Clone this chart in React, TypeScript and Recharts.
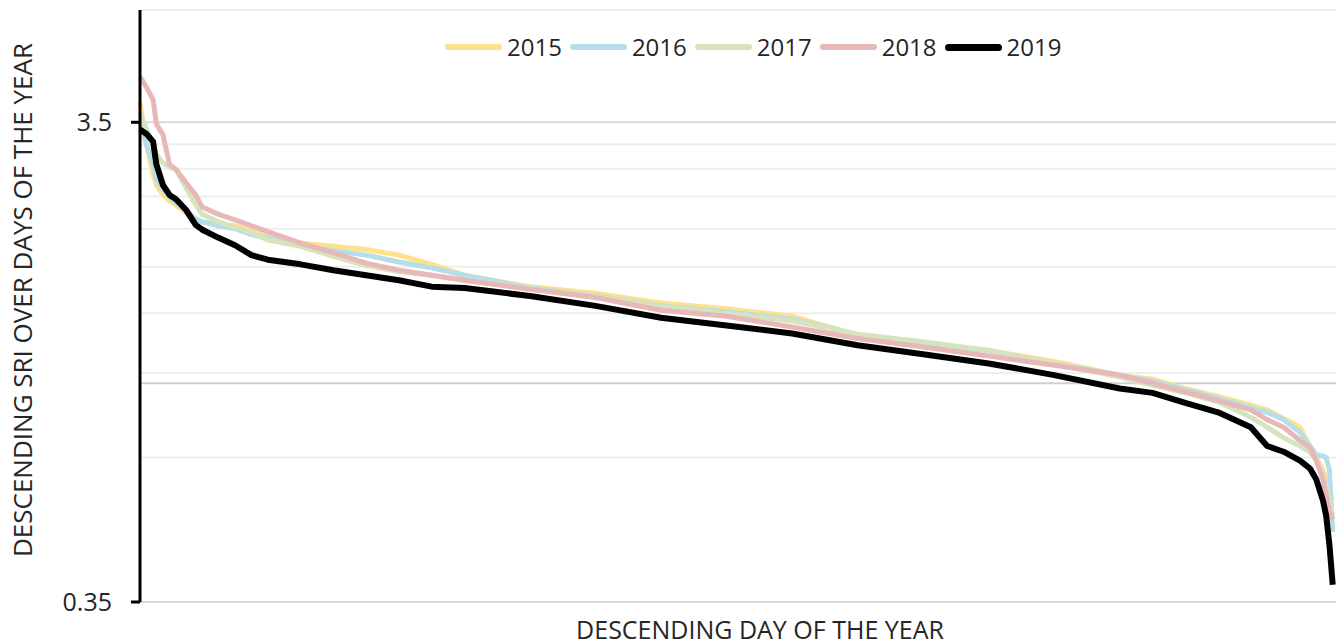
import { CartesianGrid, Line, LineChart, ReferenceLine, XAxis, YAxis } from "recharts";

// day of year (descending order of SRI)
const days = [
  1, 3, 5, 6, 8, 10, 12, 15, 18, 20, 25, 30, 35, 40, 50, 60, 70, 80, 90, 100, 120, 140, 160, 180,
  200, 220, 240, 260, 280, 300, 310, 320, 330, 340, 345, 350, 355, 358, 360, 362, 363, 364, 365,
];

const sri2015 = [
  3.85, 3.14, 2.72, 2.59, 2.47, 2.4, 2.35, 2.27, 2.2, 2.17, 2.15, 2.13, 2.08, 2.04, 1.96, 1.93, 1.9,
  1.85, 1.77, 1.68, 1.59, 1.54, 1.47, 1.43, 1.38, 1.26, 1.21, 1.17, 1.11, 1.04, 1.02, 0.975, 0.94,
  0.9, 0.88, 0.845, 0.81, 0.74, 0.7, 0.66, 0.63, 0.585, 0.57,
];
const sri2016 = [
  3.5, 3.14, 2.86, 2.66, 2.53, 2.45, 2.38, 2.3, 2.2, 2.17, 2.13, 2.1, 2.04, 2.01, 1.94, 1.89, 1.85,
  1.79, 1.74, 1.68, 1.58, 1.52, 1.45, 1.41, 1.36, 1.265, 1.21, 1.17, 1.1, 1.04, 1.01, 0.97, 0.93,
  0.89, 0.87, 0.84, 0.79, 0.74, 0.71, 0.705, 0.7, 0.66, 0.49,
];
const sri2017 = [
  3.67, 3.38, 3.14, 3.0, 2.88, 2.82, 2.79, 2.56, 2.36, 2.25, 2.17, 2.11, 2.06, 1.99, 1.93, 1.84,
  1.76, 1.71, 1.68, 1.64, 1.575, 1.515, 1.445, 1.4, 1.35, 1.265, 1.22, 1.17, 1.1, 1.03, 0.99, 0.955,
  0.915, 0.85, 0.81, 0.77, 0.74, 0.72, 0.69, 0.645, 0.61, 0.57, 0.53,
];
const sri2018 = [
  4.36, 4.14, 3.9, 3.47, 3.3, 2.86, 2.79, 2.62, 2.47, 2.33, 2.25, 2.19, 2.13, 2.07, 1.96, 1.87,
  1.78, 1.72, 1.68, 1.64, 1.57, 1.51, 1.42, 1.38, 1.31, 1.24, 1.19, 1.14, 1.09, 1.04, 1.0, 0.96,
  0.92, 0.88, 0.84, 0.81, 0.76, 0.735, 0.69, 0.63, 0.585, 0.54, 0.52,
];
const sri2019 = [
  3.38, 3.31, 3.19, 2.86, 2.59, 2.47, 2.42, 2.3, 2.14, 2.09, 2.01, 1.94, 1.85, 1.81, 1.77, 1.72,
  1.68, 1.64, 1.59, 1.58, 1.52, 1.45, 1.37, 1.32, 1.27, 1.2, 1.15, 1.1, 1.04, 0.975, 0.955, 0.91,
  0.87, 0.81, 0.74, 0.72, 0.69, 0.665, 0.63, 0.57, 0.53, 0.46, 0.38,
];

const yTicks = [0.35, 3.5];
const minorGrid = [0.7, 1.05, 1.4, 1.75, 2.1, 2.45, 2.8, 3.15, 6];

const series = [
  { key: "y2015", label: "2015", color: "#FFE08C", width: 5, values: sri2015 },
  { key: "y2016", label: "2016", color: "#B4DEE9", width: 5, values: sri2016 },
  { key: "y2017", label: "2017", color: "#D5E4BE", width: 5, values: sri2017 },
  { key: "y2018", label: "2018", color: "#E8B7B7", width: 5, values: sri2018 },
  { key: "y2019", label: "2019", color: "#000000", width: 6, values: sri2019 },
];

const rows = days.map((day, i) => {
  const row: Record<string, number> = { day };
  series.forEach((s) => (row[s.key] = s.values[i]));
  return row;
});

const font = "'Open Sans', 'Noto Sans', sans-serif";
const textColor = "#262626";

export default function App() {
  return (
    <div style={{ position: "absolute", left: 0, top: 0, width: 1338, height: 644, background: "#fff", fontFamily: font }}>
      <LineChart width={1338} height={644} data={rows} margin={{ top: 10, right: 2, left: 0, bottom: 42 }}>
        <CartesianGrid vertical={false} stroke="#d9d9d9" strokeWidth={2} />
        {minorGrid.map((v) => (
          <ReferenceLine key={v} y={v} stroke="#eeeeee" strokeWidth={2} />
        ))}
        <ReferenceLine y={1} stroke="#d0d0d0" strokeWidth={2} />
        <XAxis dataKey="day" type="number" domain={[1, 366]} hide />
        <YAxis
          type="number"
          scale="log"
          domain={[0.35, 6]}
          allowDataOverflow
          ticks={yTicks}
          width={140}
          tickSize={9}
          tickMargin={19}
          axisLine={{ stroke: "#000", strokeWidth: 3 }}
          tickLine={{ stroke: "#000", strokeWidth: 3 }}
          tick={{ fill: textColor, fontSize: 25, fontFamily: font }}
          tickFormatter={(v) => String(v)}
        />
        {series.map((s) => (
          <Line
            key={s.key}
            dataKey={s.key}
            type="linear"
            stroke={s.color}
            strokeWidth={s.width}
            strokeLinejoin="round"
            dot={false}
            isAnimationActive={false}
          />
        ))}
      </LineChart>

      <div style={{ position: "absolute", left: 445, top: 32, display: "flex", alignItems: "center", fontSize: 24, color: textColor, lineHeight: "30px" }}>
        {series.map((s) => (
          <div key={s.key} style={{ display: "flex", alignItems: "center", marginRight: 8 }}>
            <span style={{ display: "inline-block", width: 57, height: s.width + 1, borderRadius: 4, background: s.color, marginRight: 5 }} />
            <span>{s.label}</span>
          </div>
        ))}
      </div>

      <div
        style={{
          position: "absolute",
          left: 22 - 300,
          top: 300 - 15,
          width: 600,
          height: 30,
          lineHeight: "30px",
          textAlign: "center",
          fontSize: 26,
          color: textColor,
          transform: "rotate(-90deg)",
          whiteSpace: "nowrap",
        }}
      >
        DESCENDING SRI OVER DAYS OF THE YEAR
      </div>
      <div
        style={{
          position: "absolute",
          left: 760 - 300,
          top: 629 - 15,
          width: 600,
          height: 30,
          lineHeight: "30px",
          textAlign: "center",
          fontSize: 25,
          color: textColor,
          whiteSpace: "nowrap",
        }}
      >
        DESCENDING DAY OF THE YEAR
      </div>
    </div>
  );
}
